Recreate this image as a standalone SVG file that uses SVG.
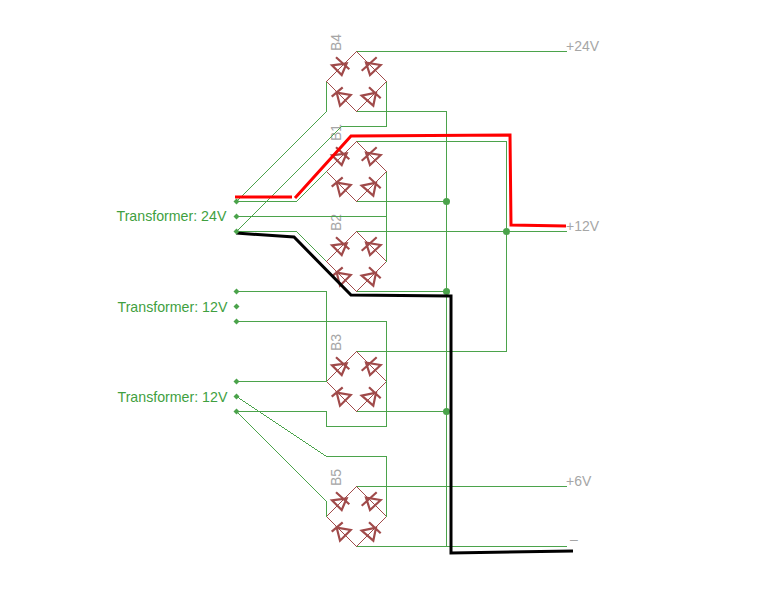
<svg xmlns="http://www.w3.org/2000/svg" width="762" height="613" viewBox="0 0 762 613">
<style>
.w{fill:none;stroke:#4ba34b;stroke-width:1;shape-rendering:crispEdges}
.lead{fill:none;stroke:#a04a4a;stroke-width:1;shape-rendering:crispEdges}
.d{fill:none;stroke:#a04a4a;stroke-width:2.2}
.r{fill:none;stroke:#f00;stroke-width:3}
.b{fill:none;stroke:#000;stroke-width:3}
.j{fill:#4ba34b}
.t{font-family:"Liberation Sans",Arial,sans-serif;font-size:14px;fill:#a6a6a6}
.g{font-family:"Liberation Sans",Arial,sans-serif;font-size:14.2px;fill:#3f9f3f}
</style>
<defs>
<g id="bridge">
<path class="lead" d="M-30 0L0-30L30 0L0 30Z"/>
<path class="d" d="M-24.500-16.200L-9.800-18.200L-14.800-6.500ZM-20.500-24.200L-7.200-12.200"/>
<path class="d" d="M24.200-16.500L9.500-18.800L13.500-6.500ZM20.200-24.200L5.200-10.800"/>
<path class="d" d="M-19.800 11.200L-5.800 13.500L-16.500 24.200ZM-24.800 15.200L-13.800 5.800"/>
<path class="d" d="M5.200 14.200L19.500 11.200L16.800 24.200ZM12.500 5.800L24.200 16.800"/>
</g>
<path id="pin" d="M-3 0L0-3L3 0L0 3Z"/>
</defs>
<g id="B4"><use href="#bridge" x="356.5" y="81.500"/><text class="t" transform="translate(341 51) rotate(-90)">B4</text></g>
<g id="B1"><use href="#bridge" x="356.5" y="171.500"/><text class="t" transform="translate(341 141) rotate(-90)">B1</text></g>
<g id="B2"><use href="#bridge" x="356.5" y="261.500"/><text class="t" transform="translate(341 231) rotate(-90)">B2</text></g>
<g id="B3"><use href="#bridge" x="356.5" y="381.500"/><text class="t" transform="translate(341 351) rotate(-90)">B3</text></g>
<g id="B5"><use href="#bridge" x="356.5" y="516.500"/><text class="t" transform="translate(341 486) rotate(-90)">B5</text></g>
<g id="connectors">
<path class="w" d="M356.500 51.500H566.500M326.500 81.500V111.500L236.500 201.500M386.500 81.500V126.500H341.500L236.500 231.500M356.500 111.500H446.500V546.500"/>
<path class="w" d="M356.500 141.500H506.500V351.500H356.500M386.500 171.500V261.500M236.500 216.500H386.500M326.500 171.500L296.500 201.500H236.500M356.500 201.500H446.500"/>
<path class="w" d="M356.500 231.500H566.500M326.500 261.500L296.500 231.500H236.500M356.500 291.500H446.500"/>
<path class="w" d="M236.500 291.500H326.500V381.500M236.500 321.500H386.500V381.500M236.500 381.500H326.500M356.500 411.500H446.500M236.500 411.500H326.500V426.500H386.500V381.500"/>
<path class="w" d="M236.500 396.500L326.500 456.500H386.500V516.500M236.500 411.500L326.500 501.500V516.500M356.500 486.500H566.500M356.500 546.500H566.500"/>
<circle class="j" cx="446.500" cy="201.500" r="3.500"/>
<circle class="j" cx="446.500" cy="291.500" r="3.500"/>
<circle class="j" cx="446.500" cy="411.500" r="3.500"/>
<circle class="j" cx="506.500" cy="231.500" r="3.500"/>
<path class="r" d="M235 197H292M295 198L351 136L510 135L511 225L566 226"/>
<path class="b" d="M236 233L294 237L351 295L451 296L451 553L573 551"/>
</g>
<g id="T24"><text class="g" x="116.500" y="221">Transformer: 24V</text><use href="#pin" class="j" x="236.500" y="201.500"/><use href="#pin" class="j" x="236.500" y="216.500"/><use href="#pin" class="j" x="236.500" y="231.500"/></g>
<g id="T12a"><text class="g" x="117.500" y="312">Transformer: 12V</text><use href="#pin" class="j" x="236.500" y="291.500"/><use href="#pin" class="j" x="236.500" y="306.500"/><use href="#pin" class="j" x="236.500" y="321.500"/></g>
<g id="T12b"><text class="g" x="117.500" y="402">Transformer: 12V</text><use href="#pin" class="j" x="236.500" y="381.500"/><use href="#pin" class="j" x="236.500" y="396.500"/><use href="#pin" class="j" x="236.500" y="411.500"/></g>
<g id="outputs">
<text class="t" x="566" y="51">+24V</text>
<text class="t" x="566" y="231">+12V</text>
<text class="t" x="566" y="486">+6V</text>
<text class="t" x="570" y="544">–</text>
</g>
</svg>
